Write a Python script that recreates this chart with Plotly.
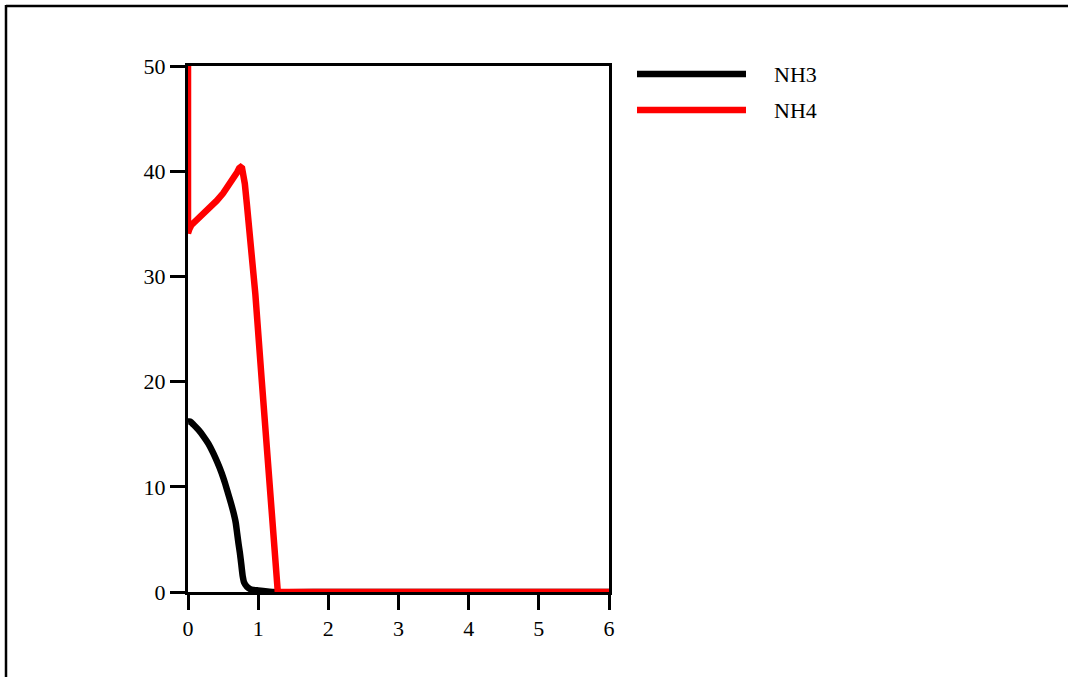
import plotly.graph_objects as go

# NH3 (black)
nh3_x = [0.0, 0.03, 0.08, 0.15, 0.22, 0.29, 0.36, 0.42, 0.48, 0.53, 0.57, 0.61, 0.65, 0.68,
         0.70, 0.72, 0.74, 0.76, 0.78, 0.80, 0.84, 0.88, 0.93, 1.00, 1.07, 1.20, 2, 3, 4, 5, 6]
nh3_y = [16.2, 16.2, 15.9, 15.4, 14.8, 14.1, 13.2, 12.3, 11.3, 10.3, 9.4, 8.5, 7.5, 6.6,
         5.6, 4.6, 3.7, 2.6, 1.5, 0.9, 0.5, 0.3, 0.2, 0.15, 0.1, 0.0, 0, 0, 0, 0, 0]

# NH4 (red)
nh4_x = [0.0, 0.0, 0.02, 0.05, 0.10, 0.17, 0.25, 0.33, 0.41, 0.50, 0.60, 0.66, 0.70, 0.73,
         0.75, 0.77, 0.79, 0.81, 0.84, 0.88, 0.96, 1.05, 1.17, 1.28, 2, 3, 4, 5, 6]
nh4_y = [50.0, 34.1, 34.5, 34.9, 35.2, 35.6, 36.1, 36.6, 37.2, 37.9, 38.8, 39.4, 39.9, 40.3,
         40.4, 40.3, 39.8, 38.8, 36.8, 34.2, 28.3, 20.2, 9.6, 0.0, 0, 0, 0, 0, 0]

series_names = ["NH3", "NH4"]
series_colors = ["#000000", "#ff0000"]

x_ticks = [0, 1, 2, 3, 4, 5, 6]
y_ticks = [0, 10, 20, 30, 40, 50]

FONT = "Liberation Serif"
FS = 22

fig = go.Figure()
fig.add_trace(go.Scatter(x=nh3_x, y=nh3_y, mode="lines", name=series_names[0],
                         line=dict(color=series_colors[0], width=6.5, shape="spline", smoothing=0.6),
                         showlegend=False, cliponaxis=False))
fig.add_trace(go.Scatter(x=nh4_x, y=nh4_y, mode="lines", name=series_names[1],
                         line=dict(color=series_colors[1], width=6.5),
                         showlegend=False, cliponaxis=False))

W, H = 1068, 677
L, R, T, B = 188, 459, 66, 85
pw, ph = W - L - R, H - T - B

def px(x):
    return (x - L) / pw

def py(y):
    return (H - B - y) / ph

shapes = []
annotations = []
# legend
for i, (name, col) in enumerate(zip(series_names, series_colors)):
    yy = py(74 + i * 36)
    shapes.append(dict(type="line", xref="paper", yref="paper", x0=px(637), x1=px(746), y0=yy, y1=yy,
                       line=dict(color=col, width=6.5)))
    annotations.append(dict(xref="paper", yref="paper", x=px(772), y=yy, text=name, showarrow=False,
                            xanchor="left", yanchor="middle", font=dict(family=FONT, size=FS, color="black")))
# outer border (top and left)
shapes.append(dict(type="line", xref="paper", yref="paper", x0=px(6), x1=px(1070), y0=py(6), y1=py(6),
                   line=dict(color="black", width=2.5)))
shapes.append(dict(type="line", xref="paper", yref="paper", x0=px(6), x1=px(6), y0=py(5), y1=py(690),
                   line=dict(color="black", width=2.5)))

fig.update_layout(
    width=W, height=H,
    margin=dict(l=L, r=R, t=T, b=B),
    paper_bgcolor="white", plot_bgcolor="white",
    showlegend=False,
    shapes=shapes, annotations=annotations,
    font=dict(family=FONT, size=FS, color="black"),
)
axis_style = dict(showgrid=False, zeroline=False, showline=True, linecolor="black", linewidth=3,
                  mirror=True, ticks="outside", ticklen=15, tickwidth=3, tickcolor="black",
                  layer="below traces", tickfont=dict(family=FONT, size=FS))
fig.update_xaxes(range=[0, 6], tickvals=x_ticks, ticktext=[str(v) for v in x_ticks], **axis_style)
fig.update_yaxes(range=[0, 50], tickvals=y_ticks, ticktext=[str(v) for v in y_ticks], **axis_style)

fig.write_html("out.html", config={"displayModeBar": False},
               post_script="document.body.style.margin='0';")
